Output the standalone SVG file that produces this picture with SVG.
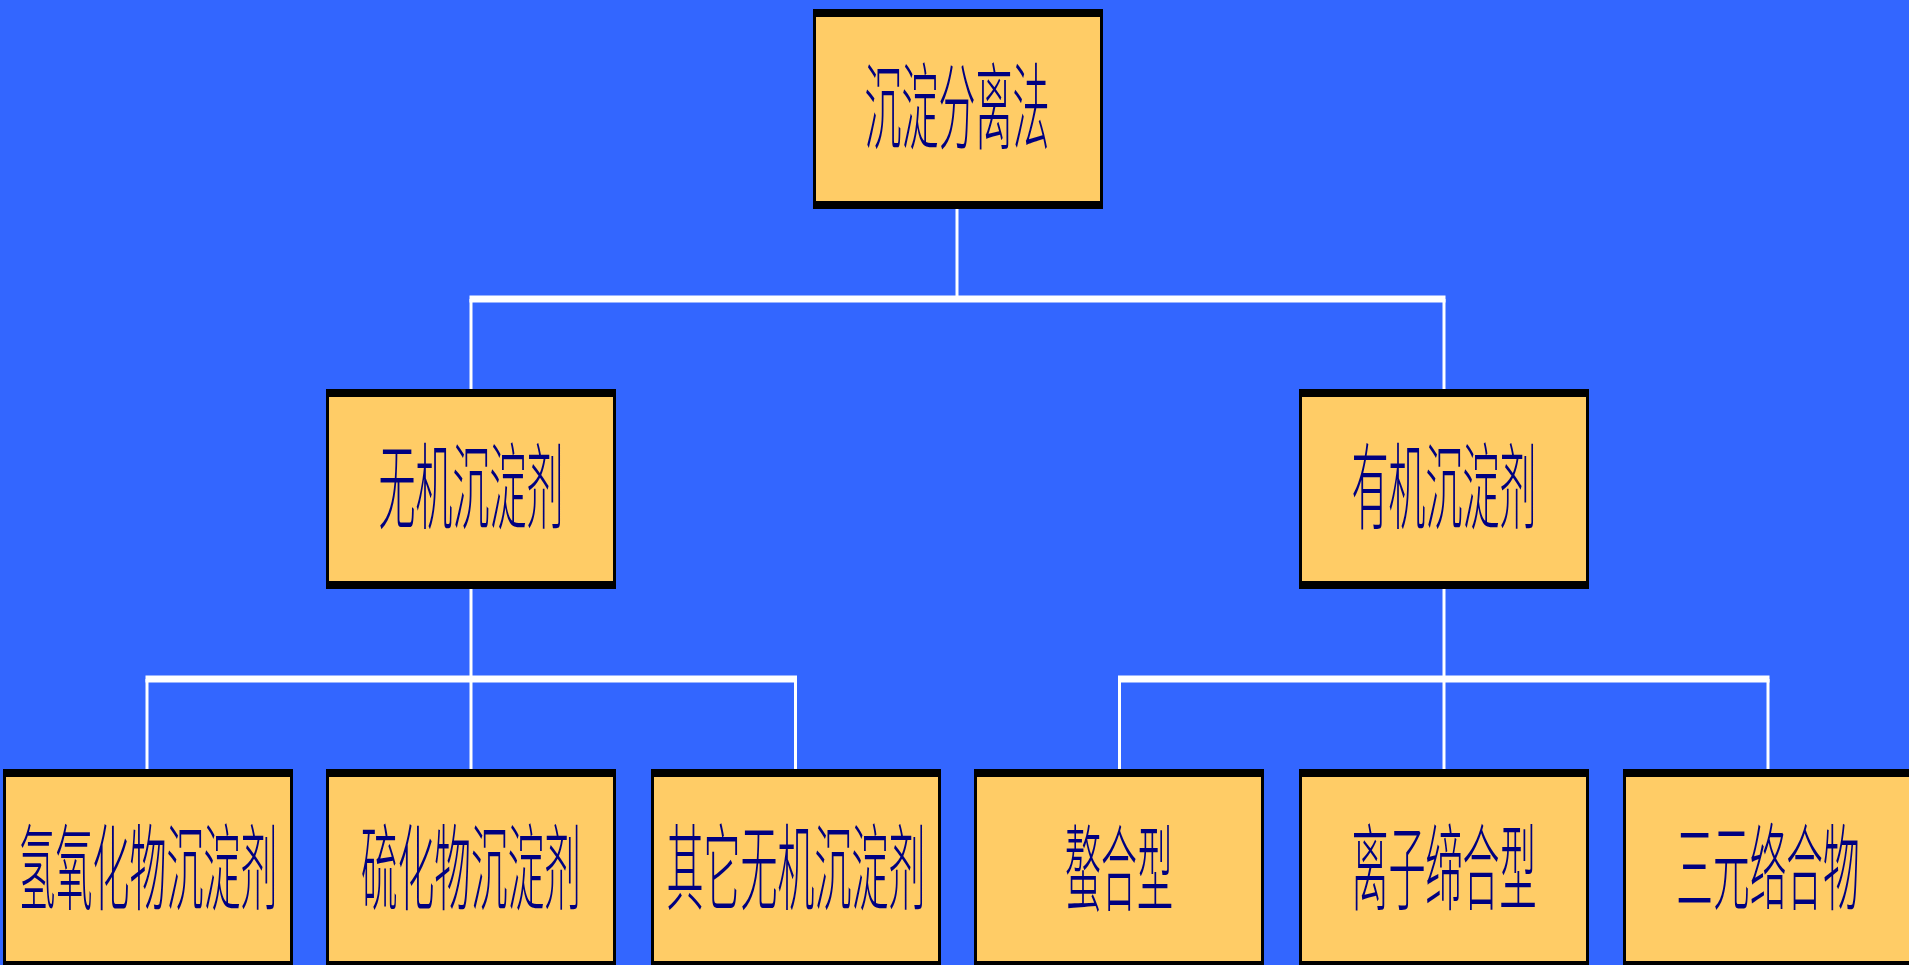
<svg xmlns="http://www.w3.org/2000/svg" width="1909" height="965" viewBox="0 0 1909 965">
<style>
.bg{fill:#3366FF}
.box{fill:#FFCC66;stroke:#000;stroke-width:3}
.bar{fill:#000}
.lbl{font-family:"Noto Sans CJK SC","Noto Sans CJK JP",sans-serif;font-size:94px;font-weight:300;fill:#000080;text-anchor:middle;dominant-baseline:central}
.h{stroke:#fff;stroke-width:7;fill:none}
.v{stroke:#fff;stroke-width:3;fill:none}
</style>
<defs>
<g id="frame">
<rect class="box" x="1.5" y="1.5" width="287" height="197"/>
<rect class="bar" x="0" y="0" width="290" height="8" rx="1"/>
<rect class="bar" x="0" y="192" width="290" height="8" rx="1"/>
</g>
</defs>
<rect class="bg" x="0" y="0" width="1909" height="965"/>
<g id="connectors">
<line class="v" x1="957" y1="209" x2="957" y2="299"/>
<line class="h" x1="469.5" y1="299" x2="1445.5" y2="299"/>
<line class="v" x1="471" y1="299" x2="471" y2="389"/>
<line class="v" x1="1444" y1="299" x2="1444" y2="389"/>
<line class="v" x1="471" y1="589" x2="471" y2="769"/>
<line class="v" x1="1444" y1="589" x2="1444" y2="769"/>
<line class="h" x1="145.5" y1="679" x2="797" y2="679"/>
<line class="h" x1="1118" y1="679" x2="1769.5" y2="679"/>
<line class="v" x1="147" y1="679" x2="147" y2="769"/>
<line class="v" x1="795.5" y1="679" x2="795.5" y2="769"/>
<line class="v" x1="1119.5" y1="679" x2="1119.5" y2="769"/>
<line class="v" x1="1768" y1="679" x2="1768" y2="769"/>
</g>
<g id="n-root" transform="translate(813,9)">
<use href="#frame"/>
<text class="lbl" transform="translate(144,92) scale(0.394,1)">沉淀分离法</text>
</g>
<g id="n-inorganic" transform="translate(326,389)">
<use href="#frame"/>
<text class="lbl" transform="translate(145,92) scale(0.394,1)">无机沉淀剂</text>
</g>
<g id="n-organic" transform="translate(1299,389)">
<use href="#frame"/>
<text class="lbl" transform="translate(145,92) scale(0.394,1)">有机沉淀剂</text>
</g>
<g id="n-hydroxide" transform="translate(3,769)">
<use href="#frame"/>
<text class="lbl" transform="translate(145,93) scale(0.394,1)">氢氧化物沉淀剂</text>
</g>
<g id="n-sulfide" transform="translate(326,769)">
<use href="#frame"/>
<text class="lbl" transform="translate(145,93) scale(0.39,1)">硫化物沉淀剂</text>
</g>
<g id="n-other" transform="translate(651,769)">
<use href="#frame"/>
<text class="lbl" transform="translate(145,93) scale(0.394,1)">其它无机沉淀剂</text>
</g>
<g id="n-chelate" transform="translate(974,769)">
<use href="#frame"/>
<text class="lbl" transform="translate(145,93) scale(0.383,1)">螯合型</text>
</g>
<g id="n-ionpair" transform="translate(1299,769)">
<use href="#frame"/>
<text class="lbl" transform="translate(145,93) scale(0.394,1)">离子缔合型</text>
</g>
<g id="n-ternary" transform="translate(1623,769)">
<use href="#frame"/>
<text class="lbl" transform="translate(145,93) scale(0.39,1)">三元络合物</text>
</g>
</svg>
